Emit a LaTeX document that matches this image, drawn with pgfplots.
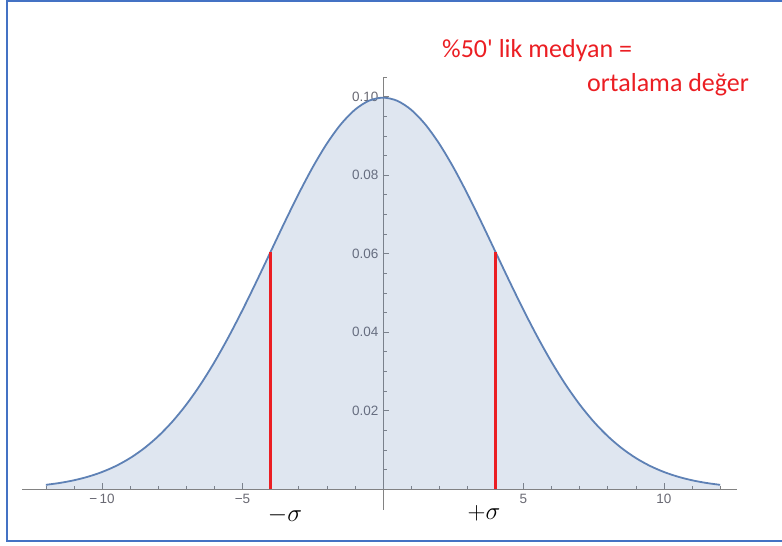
\documentclass[border=0pt]{standalone}
\usepackage{pgfplots}
\pgfplotsset{compat=1.18}
\usepackage{fontspec}
\setmainfont{Liberation Sans}
\newfontfamily\redfont{Carlito}
\definecolor{framecol}{RGB}{68,114,196}
\definecolor{curvecol}{RGB}{94,129,181}
\definecolor{redline}{RGB}{235,30,35}
\definecolor{tickgray}{RGB}{105,105,115}
\definecolor{axisgray}{RGB}{130,130,130}
\begin{document}
\begin{tikzpicture}[x=1pt,y=1pt]
\useasboundingbox (0,0) rectangle (782,546);
\draw[framecol, line width=2pt] (790,544.5) -- (6.5,544.5) -- (6.5,4.5) -- (790,4.5);
\begin{axis}[
  at={(22pt,36pt)}, anchor=south west,
  scale only axis, width=715pt, height=433pt,
  xmin=-12.85, xmax=12.6, ymin=-0.0053, ymax=0.105,
  axis lines=middle,
  axis line style={axisgray, line width=0.8pt, -},
  tick align=inside,
  xtick={-10,-5,5,10},
  xticklabels={\textminus\,10,\textminus 5,5,10},
  minor xtick={-12,-11,...,12},
  ytick={0.02,0.04,0.06,0.08,0.10},
  yticklabels={0.02,0.04,0.06,0.08,0.10},
  minor ytick={0.005,0.01,...,0.1051},
  major tick length=6pt, minor tick length=3.5pt,
  every tick/.style={axisgray, line width=0.6pt},
  tick label style={font=\fontsize{13.5}{15}\selectfont, text=tickgray},
  xticklabel style={yshift=-1pt},
  yticklabel style={xshift=-1pt},
  clip=false,
]
\addplot[draw=none, fill=curvecol, fill opacity=0.2, smooth] coordinates {
(-12,0.001108) (-11.5,0.001599) (-11,0.002273) (-10.5,0.003182) (-10,0.004382)
(-9.5,0.005942) (-9,0.007935) (-8.5,0.010434) (-8,0.013498) (-7.5,0.017197)
(-7,0.021570) (-6.5,0.026634) (-6,0.032380) (-5.5,0.038754) (-5,0.045662)
(-4.5,0.052970) (-4,0.060493) (-3.5,0.068014) (-3,0.075285) (-2.5,0.082041)
(-2,0.088017) (-1.5,0.092964) (-1,0.096667) (-0.5,0.098960) (0,0.099736)
(0.5,0.098960) (1,0.096667) (1.5,0.092964) (2,0.088017) (2.5,0.082041)
(3,0.075285) (3.5,0.068014) (4,0.060493) (4.5,0.052970) (5,0.045662)
(5.5,0.038754) (6,0.032380) (6.5,0.026634) (7,0.021570) (7.5,0.017197)
(8,0.013498) (8.5,0.010434) (9,0.007935) (9.5,0.005942) (10,0.004382)
(10.5,0.003182) (11,0.002273) (11.5,0.001599) (12,0.001108)
} \closedcycle;
\addplot[curvecol, line width=1.8pt, smooth] coordinates {
(-12,0.001108) (-11.5,0.001599) (-11,0.002273) (-10.5,0.003182) (-10,0.004382)
(-9.5,0.005942) (-9,0.007935) (-8.5,0.010434) (-8,0.013498) (-7.5,0.017197)
(-7,0.021570) (-6.5,0.026634) (-6,0.032380) (-5.5,0.038754) (-5,0.045662)
(-4.5,0.052970) (-4,0.060493) (-3.5,0.068014) (-3,0.075285) (-2.5,0.082041)
(-2,0.088017) (-1.5,0.092964) (-1,0.096667) (-0.5,0.098960) (0,0.099736)
(0.5,0.098960) (1,0.096667) (1.5,0.092964) (2,0.088017) (2.5,0.082041)
(3,0.075285) (3.5,0.068014) (4,0.060493) (4.5,0.052970) (5,0.045662)
(5.5,0.038754) (6,0.032380) (6.5,0.026634) (7,0.021570) (7.5,0.017197)
(8,0.013498) (8.5,0.010434) (9,0.007935) (9.5,0.005942) (10,0.004382)
(10.5,0.003182) (11,0.002273) (11.5,0.001599) (12,0.001108)
};
\addplot[redline, line width=2.8pt] coordinates {(-4,0) (-4,0.060493)};
\addplot[redline, line width=2.8pt] coordinates {(4,0) (4,0.060493)};
\end{axis}
\node[anchor=base, inner sep=0pt, font=\fontsize{26}{28}\selectfont] at (285,24) {$-\sigma$};
\node[anchor=base, inner sep=0pt, font=\fontsize{26}{28}\selectfont] at (484,26) {$+\sigma$};
\node[anchor=base west, inner sep=0pt, text=redline, font=\redfont\fontsize{26}{30}\selectfont] at (442,488) {\%50\textquotesingle{} lik medyan =};
\node[anchor=base west, inner sep=0pt, text=redline, font=\redfont\fontsize{26}{30}\selectfont] at (587,454) {ortalama değer};
\end{tikzpicture}
\end{document}
